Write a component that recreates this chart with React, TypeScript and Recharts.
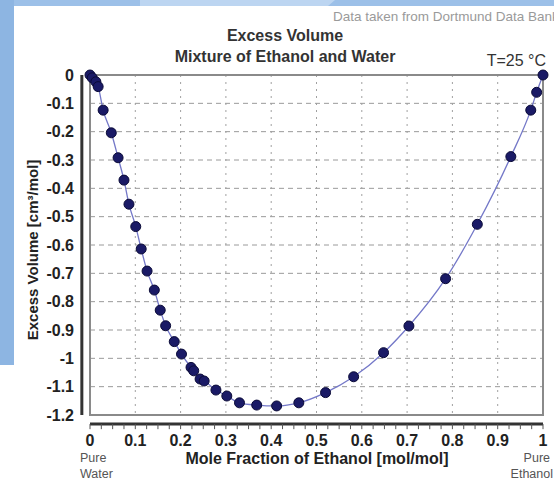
import React from 'react';
import {
  ComposedChart,
  Line,
  XAxis,
  YAxis,
  CartesianGrid,
  ReferenceLine,
  ReferenceArea,
} from 'recharts';

// mole fraction of ethanol [mol/mol]
const moleFraction = [
  0, 0.005, 0.013, 0.018, 0.029, 0.047, 0.062, 0.075, 0.086, 0.101,
  0.113, 0.126, 0.142, 0.155, 0.167, 0.186, 0.202, 0.223, 0.229, 0.243,
  0.252, 0.278, 0.302, 0.33, 0.368, 0.412, 0.461, 0.52, 0.582, 0.648,
  0.704, 0.785, 0.855, 0.929, 0.973, 0.986, 1.0,
];

// excess volume [cm3/mol]
const excessVolume = [
  0, -0.01, -0.024, -0.041, -0.124, -0.204, -0.292, -0.371, -0.456, -0.535,
  -0.614, -0.692, -0.759, -0.83, -0.885, -0.941, -0.985, -1.032, -1.044, -1.073,
  -1.08, -1.112, -1.133, -1.157, -1.165, -1.168, -1.157, -1.121, -1.065, -0.98,
  -0.886, -0.719, -0.527, -0.288, -0.124, -0.061, 0,
];

const xTicks = [0, 0.1, 0.2, 0.3, 0.4, 0.5, 0.6, 0.7, 0.8, 0.9, 1];
const xTickLabels = ['0', '0.1', '0.2', '0.3', '0.4', '0.5', '0.6', '0.7', '0.8', '0.9', '1'];
const yTicks = [0, -0.1, -0.2, -0.3, -0.4, -0.5, -0.6, -0.7, -0.8, -0.9, -1, -1.1, -1.2];
const yTickLabels = ['0', '-0.1', '-0.2', '-0.3', '-0.4', '-0.5', '-0.6', '-0.7', '-0.8', '-0.9', '-1', '-1.1', '-1.2'];

// small marks under the detached x axis line
const xMinorTicks = Array.from({ length: 41 }, (_, i) => i * 0.025);

const data = moleFraction.map((x, i) => ({ x, y: excessVolume[i] }));

const FONT = '"Liberation Sans", Arial, sans-serif';
const AXIS_X = -0.018; // detached y axis line (data units)
const AXIS_Y = -1.232; // detached x axis line (data units)

const XTick = (props: any) => {
  const { x, payload } = props;
  const idx = xTicks.findIndex(t => Math.abs(t - payload.value) < 1e-6);
  return (
    <text x={x} y={446} textAnchor="middle" fontFamily={FONT} fontSize={16} fontWeight="bold" fill="#222">
      {idx >= 0 ? xTickLabels[idx] : ''}
    </text>
  );
};

const YTick = (props: any) => {
  const { y, payload } = props;
  const idx = yTicks.findIndex(t => Math.abs(t - payload.value) < 1e-6);
  return (
    <text x={74} y={y} dy={5.5} textAnchor="end" fontFamily={FONT} fontSize={16} fontWeight="bold" fill="#222">
      {idx >= 0 ? yTickLabels[idx] : ''}
    </text>
  );
};

export default function App() {
  return (
    <div style={{ position: 'absolute', left: 0, top: 0, width: 554, height: 480, background: '#fff', overflow: 'hidden' }}>
      {/* slide background behind the chart panel */}
      <svg width={554} height={480} style={{ position: 'absolute', left: 0, top: 0 }}>
        <rect x={0} y={0} width={554} height={6} fill="#9cc0e8" />
        <polygon points="140,0 335,0 328,6 140,6" fill="#bcd5f1" />
        <rect x={0} y={0} width={14} height={365} fill="#8db5e2" />
      </svg>

      <div style={{ position: 'absolute', left: 0, top: 0 }}>
        <ComposedChart width={554} height={480} data={data} margin={{ top: 75, right: 11, bottom: 25, left: 0 }}>
          <CartesianGrid vertical={false} stroke="#9a9a9a" strokeDasharray="5 4" />
          <CartesianGrid horizontal={false} stroke="#a0a0a0" strokeDasharray="2 5" />
          <ReferenceArea x1={0} x2={1} y1={-1.2} y2={0} fill="none" stroke="#8a8a8a" strokeWidth={2} ifOverflow="visible" />
          <XAxis
            dataKey="x"
            type="number"
            domain={[0, 1]}
            ticks={xTicks}
            interval={0}
            height={40}
            axisLine={false}
            tickLine={false}
            tick={<XTick />}
          />
          <YAxis
            type="number"
            domain={[-1.2, 0]}
            ticks={yTicks}
            interval={0}
            width={90}
            axisLine={false}
            tickLine={false}
            tick={<YTick />}
          />
          <ReferenceLine
            segment={[{ x: AXIS_X, y: 0 }, { x: AXIS_X, y: -1.2 }]}
            stroke="#333"
            strokeWidth={3}
            ifOverflow="visible"
          />
          <ReferenceLine
            segment={[{ x: 0, y: AXIS_Y }, { x: 1, y: AXIS_Y }]}
            stroke="#333"
            strokeWidth={3}
            ifOverflow="visible"
          />
          {xMinorTicks.map(t => (
            <ReferenceLine
              key={t}
              segment={[{ x: t, y: AXIS_Y }, { x: t, y: -1.25 }]}
              stroke="#555"
              strokeWidth={1}
              ifOverflow="visible"
            />
          ))}
          <Line
            dataKey="y"
            type="monotone"
            stroke="#7478c8"
            strokeWidth={1.3}
            dot={{ r: 5, fill: '#1a1a66', stroke: '#0b0b38', strokeWidth: 1 }}
            isAnimationActive={false}
          />
        </ComposedChart>
      </div>

      {/* free text */}
      <svg width={554} height={480} style={{ position: 'absolute', left: 0, top: 0, pointerEvents: 'none' }}>
        <text x={333} y={21} fontFamily={FONT} fontSize={13.5} fill="#9a9a9a">Data taken from Dortmund Data Bank</text>
        <text x={285} y={41} textAnchor="middle" fontFamily={FONT} fontSize={16} fontWeight="bold" fill="#333">Excess Volume</text>
        <text x={285} y={62} textAnchor="middle" fontFamily={FONT} fontSize={16} fontWeight="bold" fill="#333">Mixture of Ethanol and Water</text>
        <text x={546} y={66} textAnchor="end" fontFamily={FONT} fontSize={16} fill="#333">T=25 °C</text>
        <text x={317} y={464} textAnchor="middle" fontFamily={FONT} fontSize={16} fontWeight="bold" fill="#222">Mole Fraction of Ethanol [mol/mol]</text>
        <text x={80} y={462} fontFamily={FONT} fontSize={12.5} fill="#555">Pure</text>
        <text x={80} y={478} fontFamily={FONT} fontSize={12.5} fill="#555">Water</text>
        <text x={550} y={462} textAnchor="end" fontFamily={FONT} fontSize={12.5} fill="#555">Pure</text>
        <text x={553} y={478} textAnchor="end" fontFamily={FONT} fontSize={12.5} fill="#555">Ethanol</text>
        <text
          x={0}
          y={0}
          transform="translate(38,250) rotate(-90)"
          textAnchor="middle"
          fontFamily={FONT}
          fontSize={15}
          fontWeight="bold"
          fill="#222"
        >
          Excess Volume [cm³/mol]
        </text>
      </svg>
    </div>
  );
}
